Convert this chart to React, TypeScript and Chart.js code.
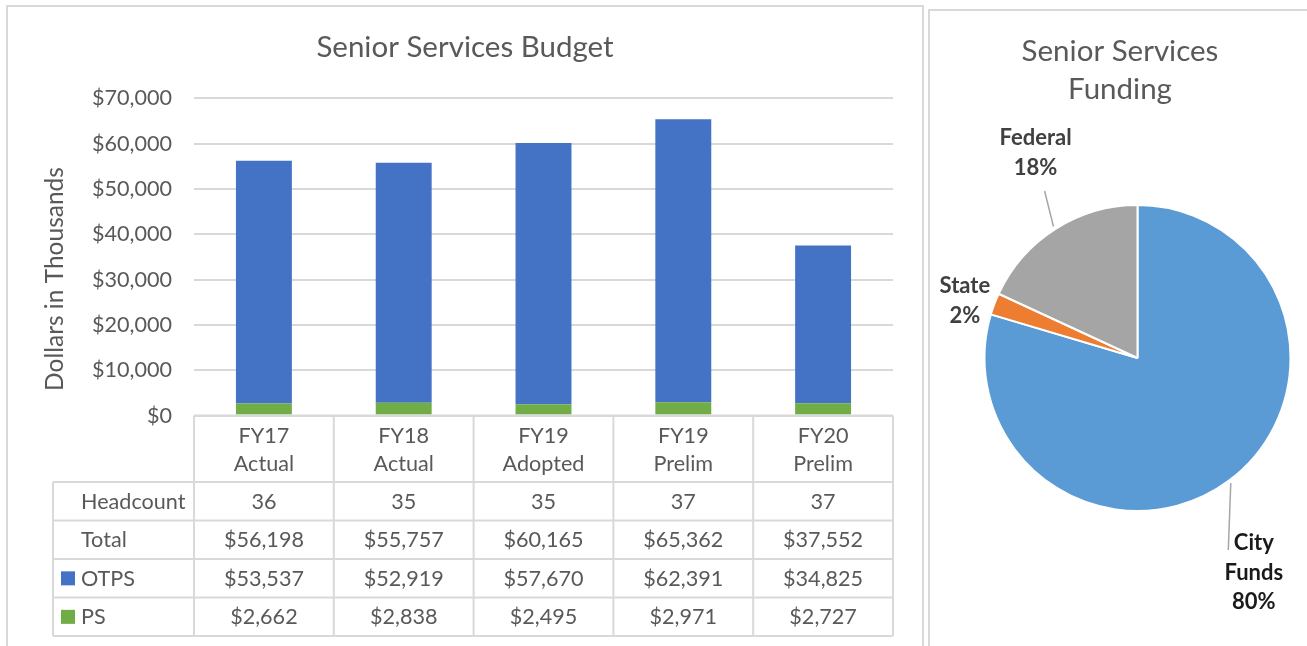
import React, { useEffect, useRef } from 'react';
import { Chart, registerables } from 'chart.js';

Chart.register(...registerables);

// ---------- data ----------
const categories: string[][] = [
  ['FY17', 'Actual'],
  ['FY18', 'Actual'],
  ['FY19', 'Adopted'],
  ['FY19', 'Prelim'],
  ['FY20', 'Prelim'],
];
const headcount = [36, 35, 35, 37, 37];
const totals = [56198, 55757, 60165, 65362, 37552];
const otps = [53537, 52919, 57670, 62391, 34825];
const ps = [2662, 2838, 2495, 2971, 2727];
const yMin = 0;
const yMax = 70000;
const yStep = 10000;

const fundingLabels = ['City Funds', 'State', 'Federal'];
const fundingShares = [79.6, 2.3, 18.1];

// ---------- styles ----------
const FONT = 'Lato, "Open Sans", sans-serif';
const TEXT = '#595959';
const GRID = '#d9d9d9';
const OTPS_COLOR = '#4472C4';
const PS_COLOR = '#70AD47';
const PIE_COLORS = ['#5B9BD5', '#ED7D31', '#A5A5A5'];
const PIE_TEXT = ['#1a1a1a', '#404040', '#404040'];
// label placement relative to slice middle: angle shift (deg) and radius factor
const PIE_LABEL_SHIFT = [8.2, -2.3, 6.2];
const PIE_LABEL_FACTOR = [1.592, 1.189, 1.499];
const PIE_LEADER: ({ dx: number; dy: number } | null)[] = [
  { dx: -25.5, dy: -22 },
  null,
  { dx: 9, dy: 38.5 },
];

const money = (n: number) => '$' + n.toLocaleString('en-US');

const budgetDecor = {
  id: 'budgetDecor',
  afterDraw(chart: any) {
    const { ctx, chartArea, scales } = chart;
    const xs = scales.x;
    const step = xs.getPixelForValue(1) - xs.getPixelForValue(0);
    const colL = (i: number) => xs.getPixelForValue(i) - step / 2;
    const left = colL(0);
    const right = colL(categories.length);
    const y0 = chartArea.bottom;
    const headH = 66.5;
    const rowH = 38.5;
    const tableLeft = 53;
    const rowTop = y0 + headH;
    const rows: { label: string; key: string | null; vals: string[] }[] = [
      { label: 'Headcount', key: null, vals: headcount.map(String) },
      { label: 'Total', key: null, vals: totals.map(money) },
      { label: 'OTPS', key: OTPS_COLOR, vals: otps.map(money) },
      { label: 'PS', key: PS_COLOR, vals: ps.map(money) },
    ];
    const bottom = rowTop + rows.length * rowH;

    ctx.save();
    // title
    ctx.fillStyle = TEXT;
    ctx.font = `29.5px ${FONT}`;
    ctx.textAlign = 'center';
    ctx.textBaseline = 'alphabetic';
    ctx.fillText('Senior Services Budget', 465, 57);

    // y axis title
    ctx.save();
    ctx.translate(63.3, 279);
    ctx.rotate(-Math.PI / 2);
    ctx.font = `24.5px ${FONT}`;
    ctx.fillText('Dollars in Thousands', 0, 0);
    ctx.restore();

    // table grid
    ctx.strokeStyle = GRID;
    ctx.lineWidth = 2;
    ctx.beginPath();
    ctx.moveTo(left, y0);
    ctx.lineTo(right, y0);
    for (let r = 0; r <= rows.length; r++) {
      const y = rowTop + r * rowH;
      ctx.moveTo(tableLeft, y);
      ctx.lineTo(right, y);
    }
    for (let i = 0; i <= categories.length; i++) {
      const x = colL(i);
      ctx.moveTo(x, y0);
      ctx.lineTo(x, bottom);
    }
    ctx.moveTo(tableLeft, rowTop);
    ctx.lineTo(tableLeft, bottom);
    ctx.stroke();

    // header
    ctx.fillStyle = TEXT;
    ctx.font = `21.6px ${FONT}`;
    ctx.textAlign = 'center';
    categories.forEach((lines, i) => {
      const cx = xs.getPixelForValue(i);
      lines.forEach((t, j) => ctx.fillText(t, cx, y0 + 27.7 + j * 27.4));
    });

    // rows
    rows.forEach((row, r) => {
      const base = rowTop + r * rowH + rowH / 2 + 7.5;
      const mid = rowTop + r * rowH + rowH / 2;
      ctx.textAlign = 'left';
      ctx.fillStyle = TEXT;
      ctx.fillText(row.label, 81, base);
      if (row.key) {
        ctx.fillStyle = row.key;
        ctx.fillRect(61, mid - 7, 14, 14);
      }
      ctx.fillStyle = TEXT;
      ctx.textAlign = 'center';
      row.vals.forEach((v, i) => ctx.fillText(v, xs.getPixelForValue(i), base));
    });
    ctx.restore();
  },
};

const pieDecor = {
  id: 'pieDecor',
  afterDraw(chart: any) {
    const { ctx } = chart;
    const meta = chart.getDatasetMeta(0);
    const values: number[] = chart.data.datasets[0].data;
    const sum = values.reduce((a, b) => a + b, 0);
    ctx.save();
    ctx.fillStyle = TEXT;
    ctx.font = `29.5px ${FONT}`;
    ctx.textAlign = 'center';
    ctx.textBaseline = 'alphabetic';
    ctx.fillText('Senior Services', 190, 61);
    ctx.fillText('Funding', 190, 99.3);

    meta.data.forEach((arc: any, i: number) => {
      const p = arc.getProps(['x', 'y', 'startAngle', 'endAngle', 'outerRadius'], true);
      const mid = (p.startAngle + p.endAngle) / 2;
      const la = mid + (PIE_LABEL_SHIFT[i] * Math.PI) / 180;
      const ax = p.x + Math.cos(la) * p.outerRadius * PIE_LABEL_FACTOR[i];
      const ay = p.y + Math.sin(la) * p.outerRadius * PIE_LABEL_FACTOR[i];
      const lead = PIE_LEADER[i];
      if (lead) {
        ctx.strokeStyle = '#a6a6a6';
        ctx.lineWidth = 1.5;
        ctx.beginPath();
        ctx.moveTo(p.x + Math.cos(mid) * (p.outerRadius + 3), p.y + Math.sin(mid) * (p.outerRadius + 3));
        ctx.lineTo(ax + lead.dx, ay + lead.dy);
        ctx.stroke();
      }
      const lines = [...String(chart.data.labels[i]).split(' '), Math.round((values[i] / sum) * 100) + '%'];
      const lh = 29.5;
      ctx.fillStyle = PIE_TEXT[i];
      ctx.font = `bold 22px ${FONT}`;
      ctx.textAlign = 'center';
      lines.forEach((t, j) => {
        ctx.fillText(t, ax, ay - ((lines.length - 1) / 2) * lh + j * lh + 7.5);
      });
    });
    ctx.restore();
  },
};

export default function App() {
  const barRef = useRef<HTMLCanvasElement>(null);
  const pieRef = useRef<HTMLCanvasElement>(null);

  useEffect(() => {
    Chart.defaults.font.family = FONT;
    const bar = new Chart(barRef.current as HTMLCanvasElement, {
      type: 'bar',
      data: {
        labels: categories.map((c) => c.join(' ')),
        datasets: [
          { label: 'PS', data: ps, backgroundColor: PS_COLOR, borderWidth: 0 },
          { label: 'OTPS', data: otps, backgroundColor: OTPS_COLOR, borderWidth: 0 },
        ],
      },
      options: {
        responsive: false,
        animation: false,
        events: [],
        layout: { padding: { left: 0, right: 32, top: 98.3, bottom: 230.4 } },
        plugins: { legend: { display: false }, tooltip: { enabled: false }, title: { display: false } },
        datasets: { bar: { categoryPercentage: 1, barPercentage: 0.4 } },
        scales: {
          x: { display: false, stacked: true, offset: true },
          y: {
            stacked: true,
            min: yMin,
            max: yMax,
            afterFit: (s: any) => {
              s.width = 194;
            },
            ticks: {
              stepSize: yStep,
              padding: 22,
              color: TEXT,
              font: { size: 21.6, family: FONT },
              callback: (v: any) => money(Number(v)),
            },
            grid: { color: GRID, lineWidth: 2, drawTicks: false },
            border: { display: false },
          },
        },
      } as any,
      plugins: [budgetDecor],
    });

    const pie = new Chart(pieRef.current as HTMLCanvasElement, {
      type: 'pie',
      data: {
        labels: fundingLabels,
        datasets: [
          {
            data: fundingShares,
            backgroundColor: PIE_COLORS,
            borderColor: '#ffffff',
            borderWidth: 2,
          },
        ],
      },
      options: {
        responsive: false,
        animation: false,
        events: [],
        layout: { padding: { left: 53.5, right: 15.5, top: 204, bottom: 134 } },
        plugins: { legend: { display: false }, tooltip: { enabled: false } },
      } as any,
      plugins: [pieDecor],
    });

    return () => {
      bar.destroy();
      pie.destroy();
    };
  }, []);

  return (
    <div
      style={{
        position: 'fixed',
        left: 0,
        top: 0,
        width: 1307,
        height: 646,
        overflow: 'hidden',
        background: '#ffffff',
      }}
    >
      <div
        style={{
          position: 'absolute',
          left: 6,
          top: 5,
          width: 918,
          height: 700,
          boxSizing: 'border-box',
          border: '2px solid #d9d9d9',
        }}
      />
      <div
        style={{
          position: 'absolute',
          left: 928,
          top: 9,
          width: 420,
          height: 700,
          boxSizing: 'border-box',
          border: '2px solid #d9d9d9',
        }}
      />
      <canvas ref={barRef} width={925} height={646} style={{ position: 'absolute', left: 0, top: 0 }} />
      <canvas ref={pieRef} width={377} height={646} style={{ position: 'absolute', left: 930, top: 0 }} />
    </div>
  );
}
